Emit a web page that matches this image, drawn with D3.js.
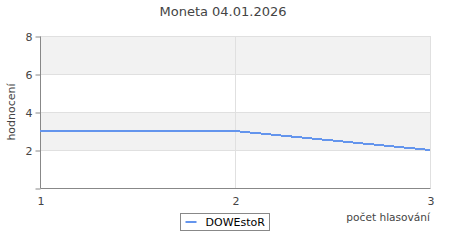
<!DOCTYPE html>
<html lang="cs">
	<head>
		<meta charset="utf-8">
		<title>Moneta 04.01.2026</title>
		<script type="text/javascript" src="https://cdn.jsdelivr.net/npm/d3@7"></script>
		<style type="text/css">
			body { margin: 0; background: #fff; }
			text { font-family: "DejaVu Sans", sans-serif; }
		</style>
	</head>
	<body>
		<script type="text/javascript">

			//Data
			let title = "Moneta 04.01.2026";
			let seriesName = "DOWEstoR";
			let xValues = [1, 2, 3];
			let yValues = [3, 3, 2];
			let xTicks = [1, 2, 3];
			let yTicks = [2, 4, 6, 8];

			let w = 450;
			let h = 250;
			let margin = { left: 40, right: 20, top: 36, bottom: 62 };

			let x = d3.scaleLinear()
						.domain([1, 3])
						.range([margin.left, w - margin.right]);
			let y = d3.scaleLinear()
						.domain([0, 8])
						.range([h - margin.bottom, margin.top]);

			let svg = d3.select("body")
						.append("svg")
						  .attr("width", w)
						  .attr("height", h);

			//Alternating bands
			let bands = [[6, 8], [2, 4]];
			svg.selectAll("rect.band")
				.data(bands)
				.enter()
			  .append("rect")
				.attr("x", x(1))
				.attr("width", x(3) - x(1))
				.attr("y", d => y(d[1]))
				.attr("height", d => y(d[0]) - y(d[1]))
				.attr("fill", "#f2f2f2");

			//Grid
			svg.selectAll("line.hgrid")
				.data(yTicks)
				.enter()
			  .append("line")
				.attr("x1", x(1)).attr("x2", x(3))
				.attr("y1", d => Math.round(y(d)) + 0.5)
				.attr("y2", d => Math.round(y(d)) + 0.5)
				.attr("stroke", "#e0e0e0");
			svg.selectAll("line.vgrid")
				.data(xTicks.slice(1))
				.enter()
			  .append("line")
				.attr("x1", d => Math.round(x(d)) + 0.5)
				.attr("x2", d => Math.round(x(d)) + 0.5)
				.attr("y1", y(8)).attr("y2", y(0))
				.attr("stroke", "#e0e0e0");

			//Axes
			let yAxis = d3.axisLeft(y)
						.tickValues([0].concat(yTicks))
						.tickFormat(d => d === 0 ? "" : d)
						.tickSize(5)
						.tickPadding(3);
			let gy = svg.append("g")
						.attr("transform", `translate(${margin.left + 0.5},0.5)`)
						.call(yAxis);
			gy.select(".domain").attr("stroke", "#888").attr("d", `M0,${y(8)}V${y(0)}`);
			gy.selectAll(".tick line").attr("stroke", "#888");
			gy.selectAll(".tick text").attr("fill", "#444").attr("font-size", 11);

			let xAxis = d3.axisBottom(x)
						.tickValues(xTicks)
						.tickFormat(d3.format("d"))
						.tickSize(0)
						.tickPadding(9);
			let gx = svg.append("g")
						.attr("transform", `translate(0.5,${Math.round(y(0)) + 0.5})`)
						.call(xAxis);
			gx.select(".domain").attr("stroke", "#888").attr("d", `M${x(1)},0H${x(3)}`);
			gx.selectAll(".tick text").attr("fill", "#444").attr("font-size", 11);

			//Line
			let line = d3.line()
						.x((d, i) => x(xValues[i]))
						.y(d => y(d));
			svg.append("path")
				.datum(yValues)
				.attr("fill", "none")
				.attr("stroke", "#6495ed")
				.attr("stroke-width", 2)
				.attr("shape-rendering", "crispEdges")
				.attr("d", line);

			//Title and axis labels
			svg.append("text")
				.attr("x", 223)
				.attr("y", 16)
				.attr("text-anchor", "middle")
				.attr("font-size", 13)
				.attr("fill", "#444")
				.text(title);
			svg.append("text")
				.attr("transform", `translate(15,${(y(0) + y(8)) / 2}) rotate(-90)`)
				.attr("text-anchor", "middle")
				.attr("font-size", 11)
				.attr("fill", "#444")
				.text("hodnocení");
			svg.append("text")
				.attr("x", x(3))
				.attr("y", 221)
				.attr("text-anchor", "end")
				.attr("font-size", 10.6)
				.attr("fill", "#444")
				.text("počet hlasování");

			//Legend
			let legend = svg.append("g").attr("transform", "translate(180.5,213.5)");
			legend.append("rect")
				.attr("width", 89)
				.attr("height", 17)
				.attr("fill", "#fff")
				.attr("stroke", "#888");
			legend.append("line")
				.attr("x1", 5).attr("x2", 16)
				.attr("y1", 8.5).attr("y2", 8.5)
				.attr("stroke", "#6495ed")
				.attr("stroke-width", 2);
			legend.append("text")
				.attr("x", 25)
				.attr("y", 12.5)
				.attr("font-size", 11)
				.attr("fill", "#000")
				.text(seriesName);

		</script>
	</body>
</html>
